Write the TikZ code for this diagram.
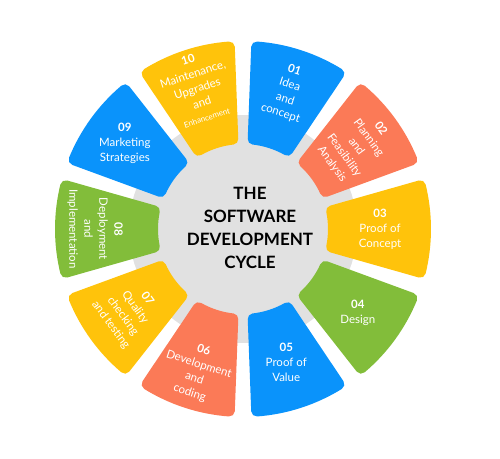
\documentclass[tikz,border=0pt]{standalone}
\usepackage{fontspec}
\setmainfont{Lato}
\definecolor{wheelblue}{HTML}{0A93FB}
\definecolor{wheelcoral}{HTML}{FB7A57}
\definecolor{wheelyellow}{HTML}{FFC30B}
\definecolor{wheelgreen}{HTML}{82BD3A}
\definecolor{wheelgray}{HTML}{E1E1E1}

\begin{document}
\begin{tikzpicture}[x=1pt, y=1pt,
        segment/.style={line width=11pt, line join=round},
        seglabel/.style={text=white,
        align=center,
        inner sep=0pt,
        font=\fontsize{11.5}{15}\selectfont},
        titletext/.style={text=black,
        align=center,
        font=\fontsize{17}{23}\selectfont\bfseries}]
        \useasboundingbox (-243,-229) rectangle (257,229);
        \fill[wheelgray] (0,0) circle (114);
        % segments of the wheel
        \foreach \n/\ang/\col/\rot/\rad/\txt in {
            01/72/wheelblue/-18/144/{Idea\\and\\concept},
            02/36/wheelcoral/-54/140/{Planning\\and\\Feasibility\\Analysis},
            03/0/wheelyellow/0/137/{Proof of\\Concept},
            04/-36/wheelgreen/0/142/{Design},
            05/-72/wheelblue/0/140/{Proof of\\Value},
            06/-108/wheelcoral/-18/150/{Development\\and\\coding},
            07/-144/wheelyellow/-54/141/{Quality\\checking\\and testing},
            08/180/wheelgreen/-90/148/{Deployment\\and\\Implementation},
            09/144/wheelblue/0/146/{Marketing\\Strategies},
            10/108/wheelyellow/18/148/{Maintenance,\\Upgrades\\and\\{\fontsize{8}{10}\selectfont Enhancement}}}
        {
            \filldraw[segment, fill=\col, draw=\col] (\ang-11.5:90.5) -- (\ang-13.7:182.5)
                arc[start angle=\ang-13.7, end angle=\ang+13.7, radius=182.5]
                -- (\ang+11.5:90.5)
                arc[start angle=\ang+11.5, end angle=\ang-11.5, radius=90.5] -- cycle;
            \node[seglabel, rotate=\rot] (seg\n) at (\ang:\rad) {\textbf{\n}\\\txt};
        }
        \node[titletext] (title) at (7,1) {THE\\SOFTWARE\\DEVELOPMENT\\CYCLE};
    \end{tikzpicture}
\end{document}
